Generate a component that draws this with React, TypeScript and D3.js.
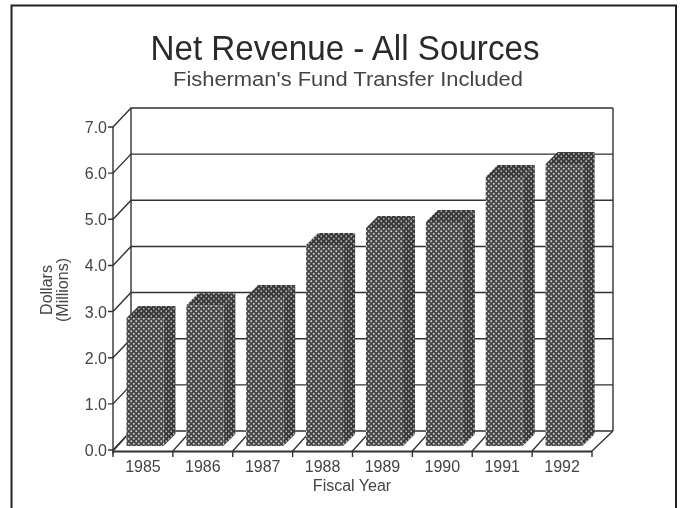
import React from "react";
import * as d3 from "d3";

const years = ["1985", "1986", "1987", "1988", "1989", "1990", "1991", "1992"];
const revenue = [2.78, 3.06, 3.24, 4.37, 4.74, 4.87, 5.85, 6.13];
const yTicks = [0, 1, 2, 3, 4, 5, 6, 7];

const W = 682, H = 508;
const ink = "#333";
const textInk = "#444";
const depthX = 18, depthY = -19;
const barDX = 12, barDY = -12;

export default function App() {
  const x = d3.scaleBand().domain(years).range([113, 592]).paddingInner(0).paddingOuter(0);
  const y = d3.scaleLinear().domain([0, 7]).range([450, 127]);
  const barY = d3.scaleLinear().domain([0, 7]).range([446, 124]);
  const poly = d3.line<[number, number]>();
  return (
    <svg width={W} height={H} style={{ position: "fixed", left: 0, top: 0, background: "#fff" }}
      fontFamily="'Liberation Sans', Arial, sans-serif">
      <defs>
        <filter id="scan" x="-5%" y="-5%" width="110%" height="110%"><feGaussianBlur stdDeviation="0.45" /></filter>
        <pattern id="front" width="5" height="5" patternUnits="userSpaceOnUse">
          <rect width="5" height="5" fill="#454545" />
          <circle cx="1.25" cy="1.25" r="1" fill="#cfcfcf" />
          <circle cx="3.75" cy="3.75" r="1" fill="#cfcfcf" />
        </pattern>
        <pattern id="side" width="5" height="5" patternUnits="userSpaceOnUse">
          <rect width="5" height="5" fill="#383838" />
          <circle cx="1.25" cy="1.25" r="0.9" fill="#b0b0b0" />
          <circle cx="3.75" cy="3.75" r="0.9" fill="#b0b0b0" />
        </pattern>
      </defs>
      <g filter="url(#scan)">
        <path d={`M11.5,508V5.5H676V508`} fill="none" stroke="#222" strokeWidth={2} />
        <text x={345} y={60} textAnchor="middle" fontSize={35} fill="#2a2a2a" textLength={389} lengthAdjust="spacingAndGlyphs">Net Revenue - All Sources</text>
        <text x={348} y={86} textAnchor="middle" fontSize={20} fill={textInk} textLength={350} lengthAdjust="spacingAndGlyphs">Fisherman's Fund Transfer Included</text>

        {yTicks.map(t => (
          <g key={t} stroke={ink} strokeWidth={1.4} fill="none">
            <path d={poly([[108, y(t)], [113, y(t)], [113 + depthX, y(t) + depthY], [613, y(t) + depthY]])!} />
            <text x={107} y={y(t) + 6} textAnchor="end" fontSize={16} fill={textInk} stroke="none">{t.toFixed(1)}</text>
          </g>
        ))}
        <path d={`M113,${y(7)}V${y(0) + 4}M131,${y(7) + depthY}V${y(0) + depthY}M613,${y(7) + depthY}V${y(0) + depthY}`} stroke={ink} strokeWidth={1.4} fill="none" />
        <path d={`M113,${y(0) + 1.5}H592`} stroke={ink} strokeWidth={1.8} />
        {[...years, "end"].map((yr, i) => {
          const px = yr === "end" ? 592 : x(yr)!;
          return (
            <path key={yr} d={`M${px},${y(0) + 7}V${y(0) + 1}L${px + (i === 8 ? 21 : depthX)},${y(0) + depthY}`}
              stroke={ink} strokeWidth={1.4} fill="none" />
          );
        })}

        {years.map((yr, i) => {
          const bw = x.bandwidth();
          const left = x(yr)! + bw * 0.225;
          const right = left + 37;
          const top = barY(revenue[i]);
          const base = barY(0);
          return (
            <g key={yr}>
              <path d={`M${right},${top}L${right + barDX},${top + barDY}V${base + barDY}L${right},${base}Z`} fill="url(#side)" />
              <path d={`M${left},${top}L${left + barDX},${top + barDY}H${right + barDX}L${right},${top}Z`} fill="url(#side)" />
              <rect x={left} y={top} width={right - left} height={base - top} fill="url(#front)" />
              <text x={x(yr)! + bw / 2} y={472} textAnchor="middle" fontSize={16} fill={textInk}>{yr}</text>
            </g>
          );
        })}

        <text x={352} y={491} textAnchor="middle" fontSize={16} fill={textInk}>Fiscal Year</text>
        <text transform="translate(52,290) rotate(-90)" textAnchor="middle" fontSize={16} fill={textInk}>Dollars</text>
        <text transform="translate(68,290) rotate(-90)" textAnchor="middle" fontSize={16} fill={textInk}>(Millions)</text>
      </g>
    </svg>
  );
}
